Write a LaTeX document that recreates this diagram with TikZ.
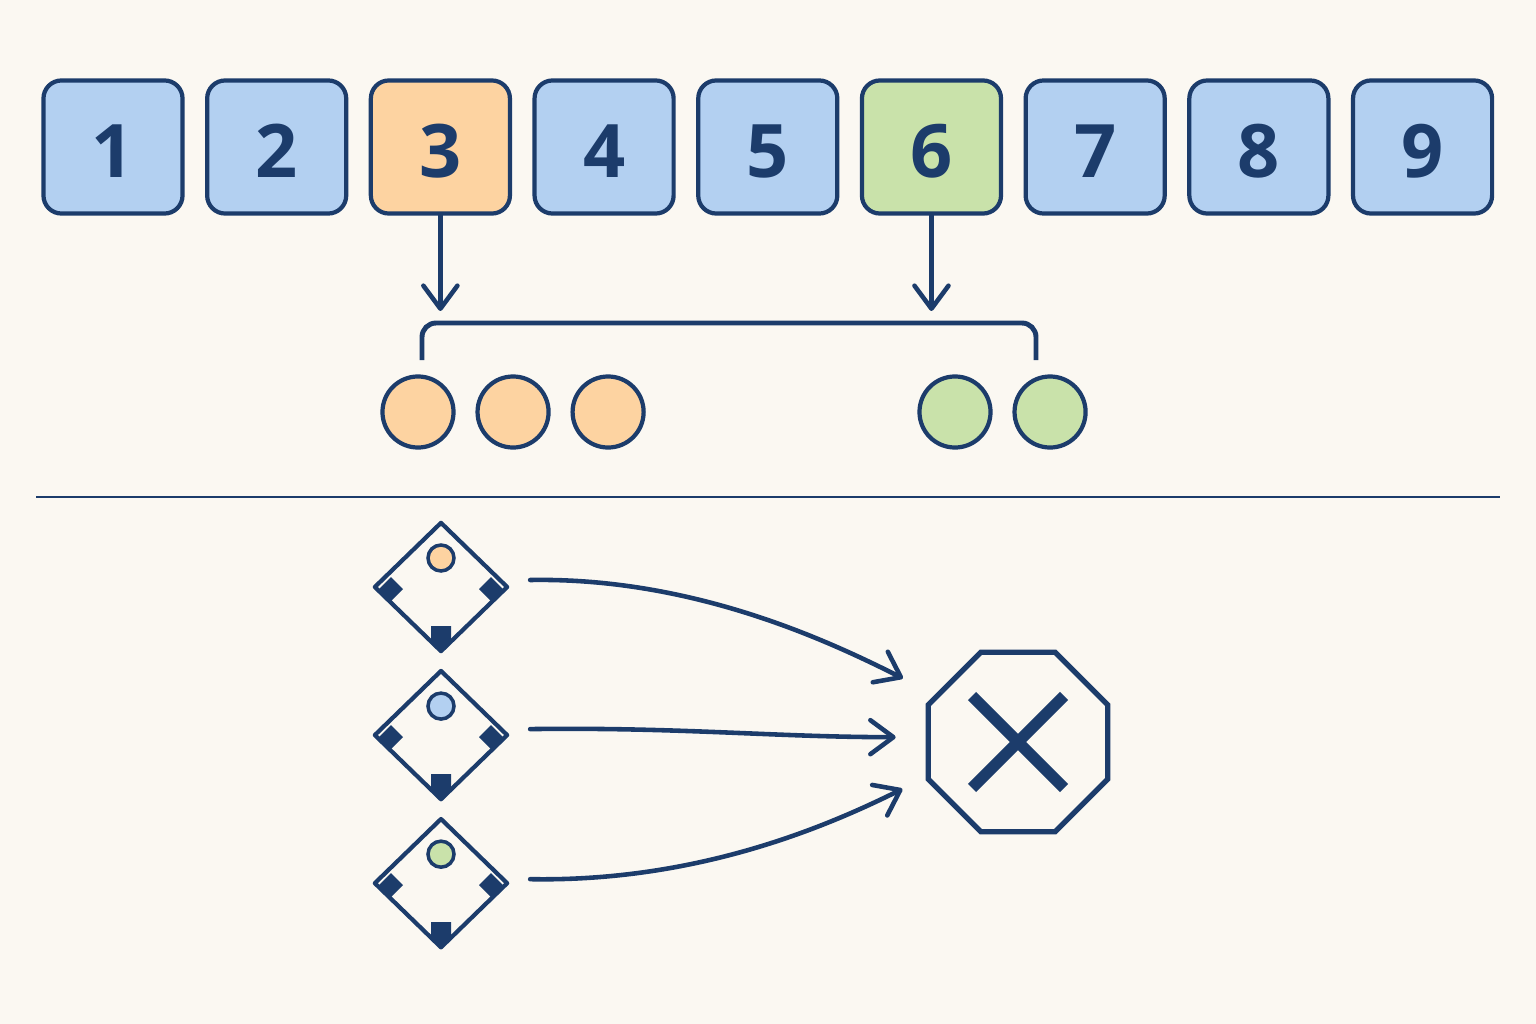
\documentclass[tikz,border=0pt]{standalone}
\usepackage{fontspec}
\setmainfont{Open Sans}
\usetikzlibrary{positioning, shapes.geometric, arrows.meta}
\definecolor{navy}{HTML}{1C3C6B}
\definecolor{paper}{HTML}{FBF8F2}
\definecolor{cellblue}{HTML}{B3D0F1}
\definecolor{cellorange}{HTML}{FDD3A1}
\definecolor{cellgreen}{HTML}{C9E2AA}
\tikzset{
cell/.style={draw=navy, line width=1.2pt, rounded corners=0.18cm, minimum width=1.39cm, minimum height=1.33cm, text height=0.61cm, text depth=0cm, fill=cellblue, text=navy, font=\fontsize{21}{24}\selectfont\bfseries}, % one number of the row
ball/.style={circle, draw=navy, line width=1.2pt, minimum size=0.71cm, inner sep=0}, % the items under the bracket
field/.style={diamond, draw=navy, line width=1.2pt, line join=round, minimum width=1.34cm, minimum height=1.30cm, inner sep=0}, % the little fields
flow/.style={draw=navy, line width=1.3pt, line cap=round, -{Straight Barb[length=2.3mm, width=3.4mm, round]}}, % every arrow
bases/.pic={ % the three bases and the ball inside a field
  \fill[navy] (-62,2) -- (-50,-10) -- (-38,2) -- (-50,14) -- cycle;
  \fill[navy] (62,2) -- (50,-10) -- (38,2) -- (50,14) -- cycle;
  \fill[navy] (-10,39) -- (10,39) -- (10,55) -- (0,65) -- (-10,55) -- cycle;
  \draw[navy, line width=1pt, fill=#1] (0,-29) circle (13);
},
}

\begin{document}
\begin{tikzpicture}[x=0.01cm, y=-0.01cm, node distance=1.636cm]
    \fill[paper] (0,0) rectangle (1536,1024);
    \useasboundingbox (0,0) rectangle (1536,1024);
    % the row of numbers
    \node[cell] (b1) at (113,147) {1};
    \node[cell, right of=b1] (b2) {2};
    \node[cell, fill=cellorange, right of=b2] (b3) {3};
    \node[cell, right of=b3] (b4) {4};
    \node[cell, right of=b4] (b5) {5};
    \node[cell, fill=cellgreen, right of=b5] (b6) {6};
    \node[cell, right of=b6] (b7) {7};
    \node[cell, right of=b7] (b8) {8};
    \node[cell, right of=b8] (b9) {9};
    % bracket and items
    \coordinate (brk) at (730,323);
    \coordinate (brkL) at (422,360);
    \coordinate (brkR) at (1036,360);
    \draw[navy, line width=1.4pt, rounded corners=0.14cm] (brkL) |- (brkR |- brk) -- (brkR);
    \node[ball, fill=cellorange] (o1) at (418,412) {};
    \node[ball, fill=cellorange, right of=o1, node distance=0.95cm] (o2) {};
    \node[ball, fill=cellorange, right of=o2, node distance=0.95cm] (o3) {};
    \node[ball, fill=cellgreen] (g1) at (955,412) {};
    \node[ball, fill=cellgreen, right of=g1, node distance=0.95cm] (g2) {};
    \draw[flow]
    (b3) edge[shorten >=0.12cm] (b3 |- brk)
    (b6) edge[shorten >=0.12cm] (b6 |- brk);
    % separator
    \draw[navy, line width=0.6pt] (36,497) -- (1500,497);
    % fields and the stop sign
    \node[field] (d1) at (441,587) {};
    \node[field, below of=d1, node distance=1.48cm] (d2) {};
    \node[field, below of=d2, node distance=1.48cm] (d3) {};
    \pic at (d1.center) {bases=cellorange};
    \pic at (d2.center) {bases=cellblue};
    \pic at (d3.center) {bases=cellgreen};
    \node[regular polygon, regular polygon sides=8, draw=navy, line width=1.5pt, minimum size=1.94cm, inner sep=0] (stop) at (1018,742) {};
    \draw[navy, line width=0.115cm]
    ([shift={(-46,-46)}]stop.center) -- ([shift={(46,46)}]stop.center)
    ([shift={(46,-46)}]stop.center) -- ([shift={(-46,46)}]stop.center);
    \draw[flow, shorten >=0.36cm] ([shift={(20,-7)}]d1.east) .. controls +(170,-3) and +(-95,-47) .. (stop.150);
    \draw[flow, shorten >=0.30cm] ([shift={(20,-6)}]d2.east) .. controls +(150,-2) and +(-150,0) .. (stop.177);
    \draw[flow, shorten >=0.26cm] ([shift={(20,-4)}]d3.east) .. controls +(170,3) and +(-95,47) .. (stop.201);
  \end{tikzpicture}
\end{document}
